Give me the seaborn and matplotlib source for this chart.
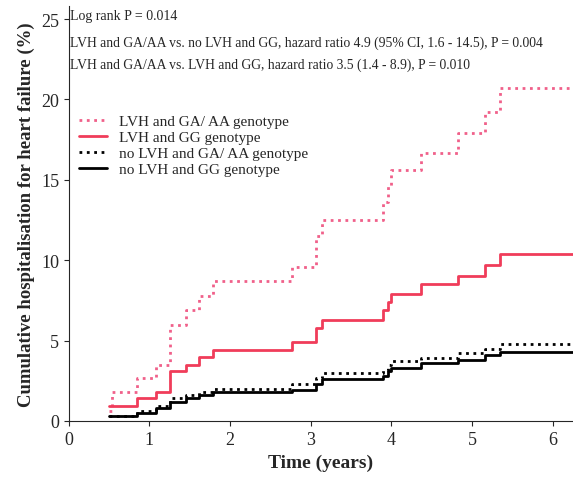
import numpy as np
import pandas as pd
import matplotlib
matplotlib.use("Agg")
import matplotlib.pyplot as plt
import seaborn as sns

# step times (years) shared by all curves
tempos = [0.5, 0.53, 0.84, 1.08, 1.25, 1.45, 1.62, 1.79, 2.77, 3.07, 3.14, 3.9, 3.96, 4.0, 4.36, 4.83, 5.16, 5.35, 6.25]

lvh_gaaa = [0.6, 1.8, 2.65, 3.5, 6.0, 6.9, 7.8, 8.7, 9.6, 11.5, 12.5, 13.6, 14.6, 15.6, 16.7, 17.9, 19.2, 20.7, 20.7]
lvh_gg = [0.9, 0.9, 1.4, 1.8, 3.1, 3.5, 4.0, 4.4, 4.9, 5.8, 6.3, 6.9, 7.4, 7.9, 8.5, 9.0, 9.7, 10.4, 10.4]
nolvh_gaaa = [0.3, 0.3, 0.6, 0.9, 1.4, 1.6, 1.8, 2.0, 2.3, 2.7, 3.0, 3.2, 3.5, 3.7, 3.9, 4.2, 4.5, 4.8, 4.8]
nolvh_gg = [0.3, 0.3, 0.5, 0.8, 1.2, 1.4, 1.6, 1.8, 1.9, 2.3, 2.6, 2.8, 3.1, 3.3, 3.6, 3.8, 4.1, 4.3, 4.3]

grupos = ["LVH and GA/ AA genotype", "LVH and GG genotype",
          "no LVH and GA/ AA genotype", "no LVH and GG genotype"]

df = pd.DataFrame({
    "tempo": tempos * 4,
    "valor": lvh_gaaa + lvh_gg + nolvh_gaaa + nolvh_gg,
    "grupo": np.repeat(grupos, len(tempos)),
})

sns.set_style("ticks")
plt.rcParams["font.family"] = ["Liberation Serif", "DejaVu Serif"]

fig = plt.figure(figsize=(5.73, 4.85), dpi=100)
ax = fig.add_axes([0.12, 0.13, 0.88, 0.855])

cores = {grupos[0]: "#f0608a", grupos[1]: "#f03c5a", grupos[2]: "black", grupos[3]: "black"}
estilos = {grupos[0]: ":", grupos[1]: "-", grupos[2]: ":", grupos[3]: "-"}
for g in grupos:
    d = df[df["grupo"] == g]
    sns.lineplot(x=d["tempo"], y=d["valor"], drawstyle="steps-post", color=cores[g],
                 linestyle=estilos[g], linewidth=2, label=g, ax=ax)

ax.set_xlim(0, 6.25)
ax.set_ylim(0, 25.8)
ax.set_xticks(range(7))
ax.set_yticks(range(0, 26, 5))
ax.tick_params(labelsize=13)
ax.set_xlabel("Time (years)", fontsize=14, fontweight="bold")
ax.set_ylabel("Cumulative hospitalisation for heart failure (%)", fontsize=13.5, fontweight="bold")
sns.despine(ax=ax)

ax.text(0.02, 25.6, "Log rank P = 0.014", fontsize=10, va="top")
ax.text(0.02, 24.0, "LVH and GA/AA vs. no LVH and GG, hazard ratio 4.9 (95% CI, 1.6 - 14.5), P = 0.004",
        fontsize=9.8, va="top")
ax.text(0.02, 22.6, "LVH and GA/AA vs. LVH and GG, hazard ratio 3.5 (1.4 - 8.9), P = 0.010",
        fontsize=9.8, va="top")

ax.legend(loc="upper left", bbox_to_anchor=(0.0, 0.765), frameon=False, fontsize=11,
          handlelength=1.8, labelspacing=0.15, borderaxespad=0.3)

fig.savefig("out.png", dpi=100)
